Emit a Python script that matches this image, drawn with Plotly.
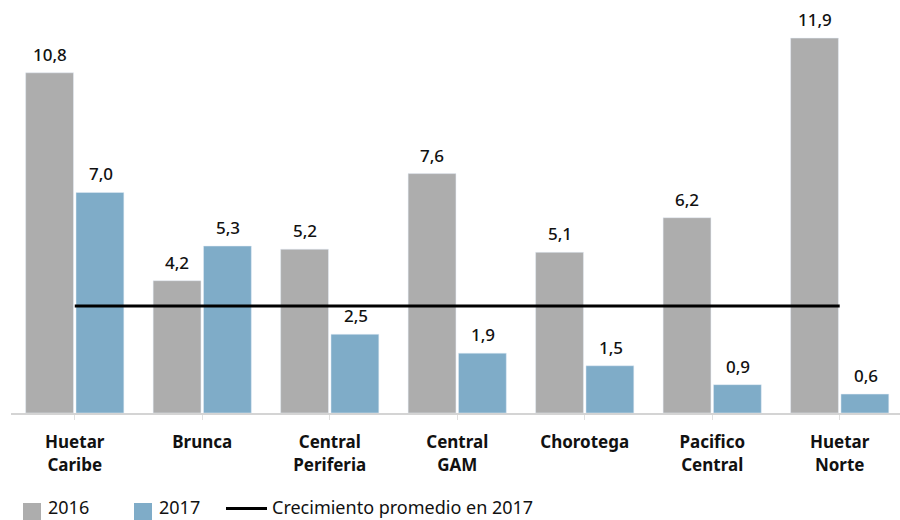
import plotly.graph_objects as go

regiones = ["Huetar<br>Caribe", "Brunca", "Central<br>Periferia", "Central<br>GAM",
            "Chorotega", "Pacifico<br>Central", "Huetar<br>Norte"]
crec_2016 = [10.8, 4.2, 5.2, 7.6, 5.1, 6.2, 11.9]
crec_2017 = [7.0, 5.3, 2.5, 1.9, 1.5, 0.9, 0.6]
promedio_2017 = 3.4

GRIS = "#adadad"
AZUL = "#7facc8"
FONT = "Noto Sans"

# plot area in pixels (used to place the hand-built legend)
L, W, PH = 11, 889, 413


def px_x(p):
    return (p - L) / W


def px_y(p):
    return (PH - p) / PH


def fmt(v):
    return f"{v:.1f}".replace(".", ",")


fig = go.Figure()

fig.add_trace(go.Bar(x=regiones, y=crec_2016, marker_color=GRIS, name="2016"))
fig.add_trace(go.Bar(x=regiones, y=crec_2017, marker_color=AZUL, name="2017"))
fig.add_trace(go.Scatter(x=[regiones[0], regiones[-1]], y=[promedio_2017] * 2,
                         mode="lines", line=dict(color="black", width=3),
                         name="Crecimiento promedio en 2017"))

# value labels above each bar
for reg, a, b in zip(regiones, crec_2016, crec_2017):
    for val, dx in ((a, -25), (b, 26)):
        fig.add_annotation(x=reg, y=val, text=fmt(val), showarrow=False,
                           xshift=dx, yshift=5, yanchor="bottom",
                           font=dict(family=FONT, size=17, color="#111", weight=500))

# legend along the bottom edge
shapes = [
    dict(type="rect", xref="paper", yref="paper", x0=px_x(23), x1=px_x(41),
         y0=px_y(521), y1=px_y(503), fillcolor=GRIS, line_width=0),
    dict(type="rect", xref="paper", yref="paper", x0=px_x(134), x1=px_x(152),
         y0=px_y(521), y1=px_y(503), fillcolor=AZUL, line_width=0),
    dict(type="line", xref="paper", yref="paper", x0=px_x(226), x1=px_x(267),
         y0=px_y(508.5), y1=px_y(508.5), line=dict(color="black", width=3)),
]
for txt, x in (("2016", 46), ("2017", 157), ("Crecimiento promedio en 2017", 270)):
    fig.add_annotation(xref="paper", yref="paper", x=px_x(x), y=px_y(507),
                       xanchor="left", yanchor="middle", showarrow=False, text=txt,
                       font=dict(family=FONT, size=18, color="#111"))

fig.update_layout(
    width=900, height=520,
    margin=dict(l=L, r=0, t=0, b=520 - PH),
    plot_bgcolor="white", paper_bgcolor="white",
    barmode="group", bargap=0.21, bargroupgap=0.05,
    showlegend=False, shapes=shapes,
    font=dict(family=FONT, color="#111"),
    xaxis=dict(showline=True, linecolor="#d4d4d4", linewidth=2,
               ticks="outside", ticklen=5, tickcolor="#e0e0e0", tickwidth=1,
               ticklabelstandoff=8,
               tickfont=dict(family=FONT, size=17, color="#111", weight="bold"),
               range=[-0.5, 6.473]),
    yaxis=dict(visible=False, range=[0, 13.11]),
)

fig.write_html("out.html")
